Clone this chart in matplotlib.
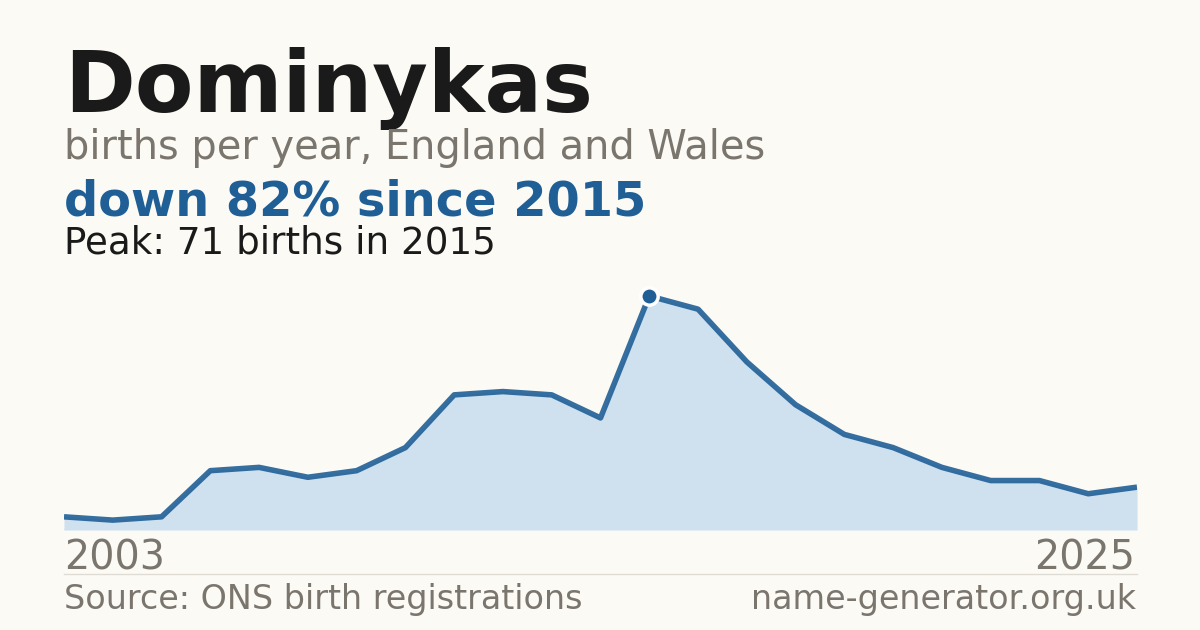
import numpy as np
import matplotlib
matplotlib.use("Agg")
import matplotlib.pyplot as plt
from matplotlib.lines import Line2D

# =========================
# DATA
# =========================

years = list(range(2003, 2026))

births = [
    4, 3, 4, 18, 19, 16, 18, 25, 41, 42, 41, 34,
    71, 67, 51, 38, 29, 25, 19, 15, 15, 11, 13
]

name = "Dominykas"
subtitle = "births per year, England and Wales"
change_text = "down 82% since 2015"
peak_text = "Peak: 71 births in 2015"
source_text = "Source: ONS birth registrations"
site_text = "name-generator.org.uk"

# =========================
# STYLE
# =========================

bg = "#fbfaf5"
dark = "#1a1a1a"
grey = "#7a756d"
blue = "#1f5f96"
fill = "#cfe0ef"
rule = "#e0dcd3"

plt.rcParams["font.family"] = ["DejaVu Sans"]

W, H = 1200, 630
fig = plt.figure(figsize=(12, 6.3), dpi=100, facecolor=bg)


def fy(py):
    return 1 - py / H


def fx(px):
    return px / W


# plot area: 2003 at x=64, 2025 at x=1137, baseline at y=530
ymax = 75
px_per_unit = (530 - 296) / 71
top_px = 530 - ymax * px_per_unit
ax = fig.add_axes([fx(64), fy(530), fx(1137) - fx(64), (530 - top_px) / H])
ax.set_facecolor("none")

ax.fill_between(years, births, 0, color=fill, lw=0)
ax.plot(years, births, color=blue, lw=4, solid_joinstyle="round",
        solid_capstyle="butt", alpha=0.9)

peak_i = int(np.argmax(births))
ax.plot(years[peak_i], births[peak_i], "o", ms=12.5, color=blue,
        mec="white", mew=2.5, zorder=5)

ax.set_xlim(years[0], years[-1])
ax.set_ylim(0, ymax)
ax.axis("off")
ax.axhline(0, color=rule, lw=1.2, zorder=0)

# separator rule
fig.add_artist(Line2D([fx(64), fx(1137)], [fy(574), fy(574)],
                      color=rule, lw=1))

# =========================
# TEXT
# =========================

fig.text(fx(64), fy(112), name, fontsize=61.5, fontweight="bold",
         color=dark, va="baseline", ha="left")
fig.text(fx(64), fy(159.5), subtitle, fontsize=28.7,
         color=grey, va="baseline", ha="left")
fig.text(fx(64), fy(215), change_text, fontsize=34.5, fontweight="bold",
         color=blue, va="baseline", ha="left")
fig.text(fx(64), fy(253.5), peak_text, fontsize=26.8,
         color=dark, va="baseline", ha="left")

fig.text(fx(64), fy(569.5), str(years[0]), fontsize=28.5,
         color=grey, va="baseline", ha="left")
fig.text(fx(1135), fy(569.5), str(years[-1]), fontsize=28.5,
         color=grey, va="baseline", ha="right")

fig.text(fx(64), fy(609.5), source_text, fontsize=24,
         color=grey, va="baseline", ha="left")
fig.text(fx(1136), fy(609.5), site_text, fontsize=24,
         color=grey, va="baseline", ha="right")

fig.savefig("out.png", dpi=100, facecolor=bg)
